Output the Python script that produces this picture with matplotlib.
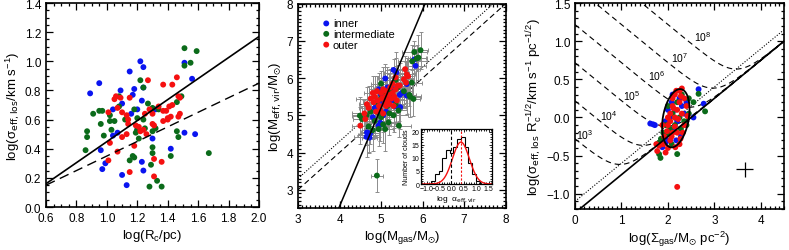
import numpy as np
import matplotlib
matplotlib.use("Agg")
import matplotlib.pyplot as plt
from matplotlib.ticker import MultipleLocator

plt.rcParams['font.family'] = ['Liberation Sans', 'DejaVu Sans']
plt.rcParams['mathtext.default'] = 'regular'

BLUE = '#0a14f0'
GREEN = '#0b6b1a'
RED = '#f51010'

# ---------------- Panel 1 data: log R_c vs log sigma ----------------
p1_blue_x = [0.89, 0.95, 0.96, 0.99, 0.97, 1.04, 1.04, 1.07, 1.09, 1.10, 1.10, 1.13, 1.15, 1.16, 1.17,
             1.18, 1.20, 1.22, 1.24, 1.24, 1.23, 1.23, 1.24, 1.20, 1.30, 1.32, 1.42, 1.51, 1.51, 1.56, 1.58]
p1_blue_y = [0.78, 0.85, 0.39, 0.30, 0.26, 0.67, 0.49, 0.51, 0.80, 0.71, 0.22, 0.15, 0.93, 0.64, 0.77,
             0.81, 0.67, 1.00, 0.96, 0.82, 0.73, 0.31, 0.25, 0.53, 0.47, 0.67, 0.40, 0.51, 0.99, 0.88, 0.50]
p1_green_x = [0.86, 0.87, 0.87, 0.91, 0.95, 0.96, 0.97, 0.98, 1.02, 1.02, 1.05, 1.03, 1.08, 1.08, 1.12,
              1.15, 1.17, 1.18, 1.18, 1.20, 1.20, 1.21, 1.22, 1.24, 1.24, 1.25, 1.27, 1.28, 1.29, 1.30,
              1.30, 1.30, 1.30, 1.33, 1.36, 1.34, 1.46, 1.46, 1.47, 1.49, 1.51, 1.51, 1.55, 1.59, 1.67,
              1.42, 1.19, 1.32]
p1_green_y = [0.39, 0.48, 0.52, 0.64, 0.66, 0.57, 0.66, 0.49, 0.59, 0.63, 0.59, 0.53, 0.76, 0.69, 0.60,
              0.32, 0.35, 0.34, 0.67, 0.53, 0.61, 0.47, 0.87, 0.82, 0.60, 0.54, 0.71, 0.14, 0.29, 0.68,
              0.37, 0.41, 0.52, 0.18, 0.14, 0.67, 0.52, 0.72, 0.48, 0.76, 0.97, 1.09, 0.99, 1.07, 0.37,
              0.35, 0.51, 0.54]
p1_red_x = [1.01, 1.01, 1.02, 1.05, 1.06, 1.07, 1.07, 1.09, 1.10, 1.10, 1.13, 1.14, 1.14, 1.13, 1.15,
            1.15, 1.18, 1.19, 1.21, 1.22, 1.24, 1.25, 1.26, 1.27, 1.28, 1.30, 1.31, 1.30, 1.31, 1.31,
            1.34, 1.37, 1.37, 1.37, 1.39, 1.41, 1.40, 1.36, 1.40, 1.42, 1.43, 1.43, 1.46, 1.47, 1.48,
            1.48, 1.47]
p1_red_y = [0.65, 0.32, 0.44, 0.74, 0.76, 0.68, 0.38, 0.75, 0.65, 0.48, 0.63, 0.60, 0.57, 0.50, 0.24,
            0.75, 0.42, 0.56, 0.55, 0.52, 0.53, 0.64, 0.50, 0.87, 0.67, 0.64, 0.56, 0.57, 0.21, 0.33,
            0.69, 0.59, 0.66, 0.84, 0.66, 0.69, 0.60, 0.31, 0.61, 0.62, 0.70, 0.84, 0.89, 0.76, 0.75,
            0.64, 0.62]
p1_fit_x = [0.6, 2.0]
p1_fit_solid = [0.16, 1.17]
p1_fit_dashed = [0.15, 0.85]

# ---------------- Panel 2 data: log M_gas vs log M_vir ----------------
p2_blue_x = [5.80, 5.83, 5.30, 5.37, 5.10, 5.62, 5.62, 5.42, 5.35, 5.46, 4.66, 4.70, 4.74, 4.65, 4.72,
             4.94, 4.98, 5.05, 5.12, 5.20, 5.25, 4.95, 5.00, 5.15, 5.30, 4.85, 5.05, 5.45, 5.50, 4.80]
p2_blue_y = [6.50, 6.33, 6.22, 6.15, 5.99, 5.84, 5.53, 5.21, 5.24, 5.22, 4.54, 4.47, 4.52, 4.42, 4.40,
             4.72, 4.80, 5.00, 5.10, 5.50, 5.40, 5.70, 5.55, 5.75, 5.70, 5.20, 5.35, 5.55, 5.60, 4.95]
p2_green_x = [5.80, 5.95, 5.86, 5.75, 5.90, 5.74, 5.78, 5.68, 5.70, 5.42, 5.43, 4.49, 4.54, 4.94, 5.10,
              5.18, 4.90, 4.70, 4.80, 4.85, 5.00, 5.05, 5.20, 5.30, 5.35, 5.15, 4.90, 4.75, 5.00, 5.25,
              5.10, 5.40, 5.55, 4.65, 5.35, 5.00, 5.20, 4.95]
p2_green_y = [6.70, 6.75, 6.53, 6.45, 6.55, 5.88, 5.44, 5.55, 5.50, 5.13, 4.72, 4.99, 4.90, 4.63, 4.63,
              4.81, 3.38, 4.70, 4.60, 4.85, 4.95, 4.75, 5.05, 5.00, 5.30, 5.25, 5.35, 5.10, 5.45, 5.55,
              5.60, 5.75, 5.65, 5.00, 5.95, 5.85, 5.65, 5.05]
p2_red_x = [5.58, 5.62, 5.55, 5.60, 5.65, 5.35, 4.50, 4.62, 4.66, 4.70, 4.75, 4.80, 4.82, 4.85, 4.90,
            4.92, 4.95, 5.00, 5.02, 5.05, 5.08, 5.10, 5.12, 5.15, 5.18, 5.20, 5.22, 5.25, 5.28, 5.30,
            5.32, 5.35, 5.38, 5.40, 4.88, 4.98, 5.05, 4.60, 5.12, 5.45, 5.28]
p2_red_y = [6.24, 6.10, 5.97, 5.88, 6.05, 6.02, 4.72, 4.90, 5.30, 5.20, 5.45, 5.60, 5.35, 5.50, 5.65,
            5.40, 5.25, 5.60, 5.45, 5.70, 5.30, 5.50, 5.65, 5.40, 5.55, 5.30, 5.75, 5.45, 5.60, 5.25,
            5.50, 5.70, 5.40, 5.80, 5.10, 5.15, 5.05, 5.05, 5.25, 5.80, 5.85]
p2_xerr = [0.15, 0.25, 0.20, 0.30, 0.18, 0.22, 0.35, 0.20, 0.25, 0.15]
p2_yerr = [0.35, 0.45, 0.30, 0.55, 0.40, 0.30, 0.50, 0.35, 0.45, 0.60]
p2_line_x = [3.0, 8.0]
p2_dashed = [3.0, 8.0]
p2_dotted = [3.3, 8.3]
p2_solid_x = [3.98, 6.06]
p2_solid_y = [2.5, 8.0]
legend_labels = ['inner', 'intermediate', 'outer']
legend_y = [7.47, 7.19, 6.90]

# inset histogram of log alpha_eff,vir
hist_edges = [-0.97, -0.82, -0.67, -0.52, -0.37, -0.22, -0.07, 0.08, 0.23, 0.38, 0.53, 0.68, 0.83, 0.98, 1.13, 1.28]
hist_counts = [0, 1, 4, 5, 10, 13, 12, 14, 17, 18, 14, 8, 4, 1, 0]
gauss_amp, gauss_mean, gauss_sig = 16.0, 0.38, 0.34

# ---------------- Panel 3 data: log Sigma vs log sigma/R^0.5 ----------------
p3_blue_x = [1.62, 1.68, 1.72, 2.66, 2.77, 1.88, 1.95, 2.00, 2.10, 2.25, 2.15, 2.05, 2.20, 2.30, 2.35,
             2.12, 2.00, 2.40, 2.28, 2.18, 1.95, 2.08, 2.55]
p3_blue_y = [-0.08, -0.09, -0.10, 0.37, 0.18, -0.39, -0.33, -0.30, 0.30, 0.25, 0.10, 0.00, -0.05, 0.15, 0.05,
             -0.15, 0.10, 0.20, -0.25, -0.30, -0.05, 0.20, 0.00]
p3_green_x = [2.66, 2.80, 2.55, 2.45, 1.81, 1.84, 1.81, 2.20, 1.90, 1.95, 2.00, 2.05, 2.15, 2.25, 2.30,
              2.35, 2.40, 2.10, 2.00, 2.20, 1.85, 2.45, 2.28, 2.08]
p3_green_y = [0.31, 0.08, 0.20, 0.25, -0.33, -0.53, -0.48, -0.48, -0.20, -0.10, -0.22, -0.15, -0.10, 0.00, 0.30,
              -0.05, -0.10, 0.05, 0.15, 0.20, -0.28, 0.05, -0.15, -0.35]
p3_red_x = [2.20, 2.30, 2.25, 2.15, 1.77, 1.81, 2.16, 1.95, 2.27, 1.75, 1.90, 2.00, 2.05, 2.10, 2.00,
            2.05, 2.10, 2.15, 2.20, 2.25, 2.30, 2.35, 2.40, 2.05, 2.15, 2.20, 2.10, 2.00, 2.35, 2.28,
            2.18, 1.98, 2.12, 2.22, 2.42, 2.08, 1.92, 2.32, 1.88, 2.25]
p3_red_y = [-0.91, 0.38, 0.35, 0.30, -0.44, -0.37, -0.39, -0.46, -0.28, -0.35, -0.35, -0.40, -0.30, -0.20, -0.10,
            0.05, 0.15, 0.00, 0.10, 0.20, 0.05, 0.25, 0.15, -0.05, -0.12, -0.20, 0.25, 0.00, -0.10, 0.28,
            0.35, -0.18, 0.12, -0.02, 0.02, -0.25, -0.25, -0.20, -0.10, -0.35]
p3_c_solid = -1.25          # intercept of virial-equilibrium line
p3_c_dotted = -1.10         # intercept of alpha=2 line
p3_pressures = [3, 4, 5, 6, 7, 8]   # log P/k  [K cm^-3]
p3_label_x = [0.20, 0.73, 1.23, 1.76, 2.26, 2.75]
p3_label_y = [-0.22, 0.03, 0.29, 0.56, 0.79, 1.06]
p3_cross = (3.65, -0.68, 0.18, 0.10)
p3_ell_center = (2.17, -0.01)
p3_ell_u = (0.12, 0.38)
p3_ell_v = (0.27, -0.04)

# ---------------------------------------------------------------------
fig = plt.figure(figsize=(7.89, 2.51), dpi=100)
ax1 = fig.add_axes([0.0583, 0.1713, 0.2700, 0.8127])
ax2 = fig.add_axes([0.3777, 0.1661, 0.2632, 0.8151])
ax3 = fig.add_axes([0.7288, 0.1633, 0.2649, 0.8207])

TICK_FS = 8.5
LAB_FS = 9.5


def style(ax, xmaj, xmin, ymaj, ymin):
    ax.xaxis.set_major_locator(MultipleLocator(xmaj))
    ax.xaxis.set_minor_locator(MultipleLocator(xmin))
    ax.yaxis.set_major_locator(MultipleLocator(ymaj))
    ax.yaxis.set_minor_locator(MultipleLocator(ymin))
    ax.tick_params(which='both', direction='in', top=True, right=True, labelsize=TICK_FS, width=0.9)
    ax.tick_params(which='major', length=5)
    ax.tick_params(which='minor', length=2.5)
    for s in ax.spines.values():
        s.set_linewidth(1.2)


ms = 18
# Panel 1
for xs, ys, c in [(p1_blue_x, p1_blue_y, BLUE), (p1_green_x, p1_green_y, GREEN), (p1_red_x, p1_red_y, RED)]:
    ax1.scatter(xs, ys, s=ms, color=c, edgecolors='none', zorder=3)
ax1.plot(p1_fit_x, p1_fit_solid, color='k', lw=1.2, zorder=4)
ax1.plot(p1_fit_x, p1_fit_dashed, color='k', lw=1.0, dashes=(7, 4), zorder=4)
ax1.set_xlim(0.6, 2.0)
ax1.set_ylim(0.0, 1.4)
style(ax1, 0.2, 0.05, 0.2, 0.05)
ax1.set_xticks([0.6, 0.8, 1.0, 1.2, 1.4, 1.6, 1.8, 2.0])
ax1.set_xticklabels(['0.6', '0.8', '1.0', '1.2', '1.4', '1.6', '1.8', '2.0'])
ax1.set_xlabel(r'log(R$_c$/pc)', fontsize=LAB_FS, labelpad=2)
ax1.set_ylabel(r'log($\sigma_{\rm eff,los}$/km s$^{-1}$)', fontsize=LAB_FS, labelpad=2)

# Panel 2
for i, (xs, ys, c) in enumerate([(p2_blue_x, p2_blue_y, BLUE), (p2_green_x, p2_green_y, GREEN), (p2_red_x, p2_red_y, RED)]):
    xe = [p2_xerr[(k + 3 * i) % len(p2_xerr)] for k in range(len(xs))]
    ye = [p2_yerr[(k + 5 * i) % len(p2_yerr)] for k in range(len(xs))]
    ax2.errorbar(xs, ys, xerr=xe, yerr=ye, fmt='none', ecolor='#8c8c8c', elinewidth=0.7,
                 capsize=1.5, capthick=0.7, zorder=2)
for xs, ys, c in [(p2_blue_x, p2_blue_y, BLUE), (p2_green_x, p2_green_y, GREEN), (p2_red_x, p2_red_y, RED)]:
    ax2.scatter(xs, ys, s=ms, color=c, edgecolors='none', zorder=3)
ax2.plot(p2_line_x, p2_dashed, color='k', lw=0.8, dashes=(5, 3), zorder=1)
ax2.plot(p2_line_x, p2_dotted, color='k', lw=0.8, dashes=(1, 1.5), zorder=1)
ax2.plot(p2_solid_x, p2_solid_y, color='k', lw=1.1, zorder=4)
# legend drawn as marks + texts
for lab, ly, c in zip(legend_labels, legend_y, [BLUE, GREEN, RED]):
    ax2.scatter([3.68], [ly], s=ms, color=c, edgecolors='none', zorder=5)
    ax2.text(3.84, ly, lab, fontsize=8, va='center', ha='left')
ax2.set_xlim(3, 8)
ax2.set_ylim(2.5, 8.0)
style(ax2, 1, 0.1, 1, 0.1)
ax2.set_yticks([3, 4, 5, 6, 7, 8])
ax2.set_xlabel(r'log(M$_{gas}$/M$_{\odot}$)', fontsize=LAB_FS, labelpad=2)
ax2.set_ylabel(r'log(M$_{\rm eff,vir}$/M$_{\odot}$)', fontsize=LAB_FS, labelpad=2)

# inset
axi = fig.add_axes([0.5332, 0.2629, 0.0900, 0.2191])
axi.stairs(hist_counts, hist_edges, color='k', lw=0.8)
gx = np.linspace(-1.2, 1.6, 200)
axi.plot(gx, gauss_amp * np.exp(-0.5 * ((gx - gauss_mean) / gauss_sig) ** 2), color=RED, lw=1.0)
axi.axvline(0.0, color='k', lw=0.8, dashes=(3, 2))
axi.axvline(gauss_mean, color=RED, lw=0.8, dashes=(2, 1.5))
axi.set_xlim(-1.24, 1.62)
axi.set_ylim(0, 21)
axi.xaxis.set_major_locator(MultipleLocator(0.5))
axi.xaxis.set_minor_locator(MultipleLocator(0.1))
axi.yaxis.set_major_locator(MultipleLocator(5))
axi.yaxis.set_minor_locator(MultipleLocator(1))
axi.tick_params(which='both', direction='in', top=True, right=True, labelsize=5, width=0.6, pad=1)
axi.tick_params(which='major', length=2.5)
axi.tick_params(which='minor', length=1.2)
axi.set_xticks([-1.0, -0.5, 0.0, 0.5, 1.0, 1.5])
axi.set_xticklabels(['\u22121.0', '\u22120.5', '0.0', '0.5', '1.0', '1.5'])
for s in axi.spines.values():
    s.set_linewidth(0.9)
axi.set_xlabel(r'log  $\alpha_{\rm eff,vir}$', fontsize=6, labelpad=0.5)
axi.set_ylabel('Number of clouds', fontsize=5, labelpad=1)

# Panel 3
xx = np.linspace(0, 4.5, 400)
A = 10 ** (2 * p3_c_solid)
for lp in p3_pressures:
    P = (4.0 / 3.0) * 2.04e-4 * 10 ** lp
    S = 10 ** xx
    yy = 0.5 * np.log10(A * S + P / S)
    ax3.plot(xx, yy, color='k', lw=0.8, dashes=(5, 3.5), zorder=1)
for lp, lx, ly in zip(p3_pressures, p3_label_x, p3_label_y):
    ax3.text(lx, ly, r'10$^{%d}$' % lp, fontsize=7.5, ha='center', va='center')
ax3.plot(xx, p3_c_solid + 0.5 * xx, color='k', lw=1.2, zorder=4)
ax3.plot(xx, p3_c_dotted + 0.5 * xx, color='k', lw=0.8, dashes=(1, 1.5), zorder=1)
for xs, ys, c in [(p3_blue_x, p3_blue_y, BLUE), (p3_green_x, p3_green_y, GREEN), (p3_red_x, p3_red_y, RED)]:
    ax3.scatter(xs, ys, s=ms, color=c, edgecolors='none', zorder=3)
t = np.linspace(0, 2 * np.pi, 200)
ex = p3_ell_center[0] + p3_ell_u[0] * np.sin(t) + p3_ell_v[0] * np.cos(t)
ey = p3_ell_center[1] + p3_ell_u[1] * np.sin(t) + p3_ell_v[1] * np.cos(t)
ax3.plot(ex, ey, color='k', lw=1.3, zorder=5)
cx, cy, dx, dy = p3_cross
ax3.errorbar([cx], [cy], xerr=[dx], yerr=[dy], fmt='none', ecolor='k', elinewidth=0.9, capsize=0)
ax3.set_xlim(0, 4.5)
ax3.set_ylim(-1.2, 1.5)
style(ax3, 1, 0.1, 0.5, 0.1)
ax3.set_yticks([-1.0, -0.5, 0.0, 0.5, 1.0, 1.5])
ax3.set_yticklabels(['\u22121.0', '\u22120.5', '0.0', '0.5', '1.0', '1.5'])
ax3.set_xlabel(r'log($\Sigma_{gas}$/M$_{\odot}$ pc$^{-2}$)', fontsize=LAB_FS, labelpad=2)
ax3.set_ylabel(r'log($\sigma_{\rm eff,los}$ R$_c^{-1/2}$/km s$^{-1}$ pc$^{-1/2}$)', fontsize=LAB_FS, labelpad=1)

fig.savefig('out.png', dpi=100)
